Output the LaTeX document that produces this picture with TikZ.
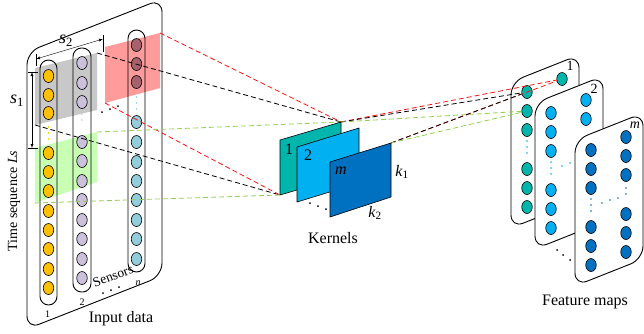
\documentclass[tikz,border=0pt]{standalone}
\usepackage{fontspec}
\setmainfont{Liberation Serif}
\usetikzlibrary{positioning,shapes.geometric}
\definecolor{cOrange}{RGB}{255,192,0}
\definecolor{cLav}{RGB}{204,193,218}
\definecolor{cSky}{RGB}{146,205,220}
\definecolor{cRose}{RGB}{166,98,108}
\definecolor{cGray}{RGB}{200,200,200}
\definecolor{cPink}{RGB}{255,155,155}
\definecolor{cMint}{RGB}{200,255,180}
\definecolor{cTeal}{RGB}{0,182,172}
\definecolor{cBlue}{RGB}{0,176,240}
\definecolor{cNavy}{RGB}{0,112,192}
\definecolor{cLime}{RGB}{146,208,80}
\definecolor{cRedline}{RGB}{255,20,20}
\tikzset{
  cell/.style={ellipse,draw=black,line width=0.6pt,minimum width=10.5pt,minimum height=13pt,inner sep=0pt,fill=#1},
  link/.style={dash pattern=on 5pt off 3pt,line width=0.8pt,draw=#1},
  dotline/.style={line width=1.6pt,line cap=round,dash pattern=on 0pt off 6pt,draw=#1},
  frame/.style={draw=black,line width=0.9pt,rounded corners=13pt},
  bar/.style={draw=black,line width=0.9pt,rounded corners=8.5pt},
  kernel/.style={draw=black,line width=0.6pt,fill=#1},
  small/.style={font=\fontsize{10}{12}\selectfont,inner sep=1pt},
}
\begin{document}
\begin{tikzpicture}[x=1pt,y=-1pt,font=\fontsize{16}{18}\selectfont,>=latex]
\useasboundingbox (0,0) rectangle (644,333);
\coordinate (A1) at (35,68);
\coordinate (A2) at (97,53);
\coordinate (A3) at (97,110);
\coordinate (A4) at (35,125);
\coordinate (B1) at (105,47);
\coordinate (B2) at (160,33);
\coordinate (B3) at (160,88);
\coordinate (B4) at (105,103);
\coordinate (C1) at (35,148);
\coordinate (C2) at (97,132);
\coordinate (C3) at (97,182);
\coordinate (C4) at (35,203);
\fill[cGray] (A1)--(A2)--(A3)--(A4)--cycle;
\fill[cPink] (B1)--(B2)--(B3)--(B4)--cycle;
\fill[cMint] (C1)--(C2)--(C3)--(C4)--cycle;
\draw[frame] (27,52)--(162,-1)--(162,276)--(27,329)--cycle;
\draw[bar] (40,60) rectangle (57,305);
\draw[bar] (73,48) rectangle (91,292);
\draw[bar] (128,30) rectangle (145,272);
\foreach \y [count=\i] in {76,95,113,153,172,191,211,230,249,269,288}
  \node[cell=cOrange] (o\i) at (48.5,\y) {};
\foreach \y [count=\i] in {63,83,102,142,161,181,200,220,239,259,278}
  \node[cell=cLav] (v\i) at (82,\y) {};
\foreach \y [count=\i] in {45,64,82}
  \node[cell=cRose] (r\i) at (136.5,\y) {};
\foreach \y [count=\i] in {122,142,162,181,200,220,239,259}
  \node[cell=cSky] (b\i) at (136.5,\y) {};
\draw[dotline=cOrange] (48.5,127)--(48.5,139);
\draw[dotline=cLav] (82,114)--(82,126);
\draw[dotline=cSky] (136.5,97)--(136.5,109);
\foreach \P in {(102,112),(110,109),(118,106),(103,293),(111,290),(119,287)} \fill[black] \P circle (1);
\draw[<->] (32,72)--(32,148);
\draw (28,72)--(38,72);
\draw (28,148)--(38,148);
\draw[<->] (36,59)--(103,39);
\draw (36,54)--(36,66);
\draw (103,35)--(103,52);
\node[font=\fontsize{18}{20}\selectfont] (s1) at (17,101) {\textit{s}\textsubscript{1}};
\node[font=\fontsize{18}{20}\selectfont] (s2) at (66,41) {\textit{s}\textsubscript{2}};
\node[rotate=90,font=\fontsize{14}{16}\selectfont] (ts) at (14,201) {Time sequence \textit{Ls}};
\node[small] (n1) at (47.5,314) {1};
\node[small] (n2) at (82,302) {2};
\node[small] (nn) at (138,283) {\textit{n}};
\node[rotate=21,inner sep=0pt,font=\fontsize{13.5}{15}\selectfont] (sens) at (113,276) {Sensors};
\node (inp) at (121,319) {Input data};
\draw[link=black] (A2)--(341,122);
\draw[link=black] (A4)--(280,195);
\draw[link=cRedline] (B2)--(341,122);
\draw[link=cRedline] (B4)--(280,195);
\draw[link=cLime] (C2)--(341,122);
\draw[link=cLime] (C4)--(280,195);
\coordinate (K1a) at (280,140);
\coordinate (K1b) at (341,122);
\coordinate (K1c) at (341,177);
\coordinate (K1d) at (280,195);
\coordinate (K2a) at (297,147);
\coordinate (K2b) at (359,128);
\coordinate (K2c) at (359,183);
\coordinate (K2d) at (297,202);
\coordinate (Kma) at (330,162);
\coordinate (Kmb) at (391,143);
\coordinate (Kmc) at (391,197);
\coordinate (Kmd) at (330,217);
\draw[kernel=cTeal] (K1a)--(K1b)--(K1c)--(K1d)--cycle;
\draw[kernel=cBlue] (K2a)--(K2b)--(K2c)--(K2d)--cycle;
\draw[kernel=cNavy] (Kma)--(Kmb)--(Kmc)--(Kmd)--cycle;
\node (kl1) at (289,149) {1};
\node (kl2) at (308,155) {2};
\node (klm) at (341,171) {\textit{m}};
\node (kk1) at (402,172) {\textit{k}\textsubscript{1}};
\node (kk2) at (375,213) {\textit{k}\textsubscript{2}};
\foreach \P in {(310,203),(318,206),(326,209)} \fill[black] \P circle (1);
\node (kern) at (333,238) {Kernels};
\begin{scope}[shift={(511,82)}]
  \draw[frame,fill=white] (0,0)--(68,-27)--(68,119)--(0,146)--cycle;
  \foreach \y [count=\i] in {10,29,48,87,106,125}
    \node[cell=cTeal] (fa\i) at (16,\y) {};
  \node[cell=cTeal] (fa7) at (51,-3) {};
  \draw[dotline=cBlue] (16,59)--(16,72);
  \node[font=\fontsize{14}{15}\selectfont] (fl1) at (59,-16) {1};
\end{scope}
\begin{scope}[shift={(535,103)}]
  \draw[frame,fill=white] (0,0)--(68,-27)--(68,119)--(0,146)--cycle;
  \foreach \y [count=\i] in {10,29,48,87,106,125}
    \node[cell=cBlue] (fb\i) at (16,\y) {};
  \foreach \y [count=\i from 7] in {-3,16}
    \node[cell=cBlue] (fb\i) at (51,\y) {};
  \draw[dotline=cBlue] (16,59)--(16,72);
  \foreach \P in {(27,63),(35,60)} \fill[cBlue] \P circle (0.8);
  \node[font=\fontsize{14}{15}\selectfont] (fl2) at (59,-14) {2};
\end{scope}
\foreach \P in {(557,250),(563,255),(570,260)} \fill[black] \P circle (1);
\begin{scope}[shift={(575,140)}]
  \draw[frame,fill=white] (0,0)--(68,-27)--(68,119)--(0,146)--cycle;
  \foreach \y [count=\i] in {10,29,48,87,106,125}
    \node[cell=cNavy] (fm\i) at (16,\y) {};
  \foreach \y [count=\i from 7] in {-3,16,35,74,93,112}
    \node[cell=cNavy] (fm\i) at (51,\y) {};
  \draw[dotline=cNavy] (16,59)--(16,72);
  \draw[dotline=cNavy] (51,48)--(51,60);
  \foreach \P in {(27,63),(35,60),(43,58)} \fill[cNavy] \P circle (0.8);
  \node[font=\fontsize{14}{15}\selectfont] (flm) at (60,-15) {\textit{m}};
\end{scope}
\node (feat) at (585,302) {Feature maps};
\draw[link=cRedline] (K1b)--(fa7);
\draw[link=cRedline] (Kmb)--(fa7);
\draw[link=black] (K1b)--(fa1);
\draw[link=black] (Kmb)--(fa1);
\draw[link=cLime] (K1b)--(fa2);
\draw[link=cLime] (Kmb)--(fa2);
\end{tikzpicture}
\end{document}
